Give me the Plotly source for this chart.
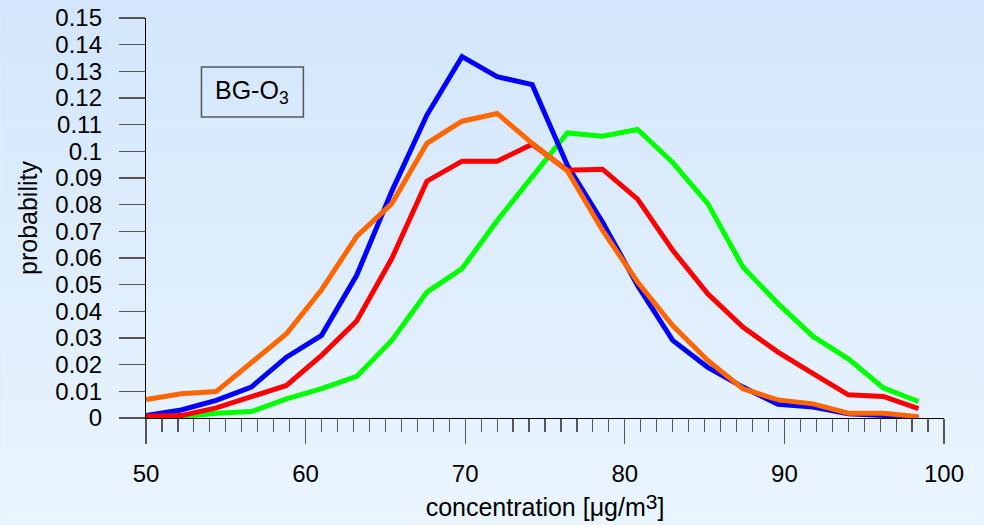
import plotly.graph_objects as go

# ---- data ----
conc = [50.0, 52.2, 54.4, 56.6, 58.8, 61.0, 63.2, 65.4, 67.6, 69.8, 72.0, 74.2,
        76.4, 78.6, 80.8, 83.0, 85.2, 87.4, 89.6, 91.8, 94.0, 96.2, 98.4]
blue = [0.0009, 0.0030, 0.0066, 0.0116, 0.0228, 0.0310, 0.0535, 0.0850, 0.1136, 0.1355, 0.1280, 0.1250,
        0.0948, 0.0735, 0.0497, 0.0291, 0.0190, 0.0116, 0.0051, 0.0041, 0.0016, 0.0009, 0.0003]
red = [0.0007, 0.0009, 0.0038, 0.0078, 0.0122, 0.0235, 0.0364, 0.0598, 0.0888, 0.0963, 0.0963, 0.1027,
       0.0929, 0.0933, 0.0821, 0.0629, 0.0466, 0.0341, 0.0247, 0.0166, 0.0087, 0.0081, 0.0035]
green = [0.0003, 0.0004, 0.0018, 0.0024, 0.0072, 0.0110, 0.0156, 0.0291, 0.0472, 0.0560, 0.0740, 0.0904,
         0.1069, 0.1057, 0.1082, 0.0958, 0.0804, 0.0566, 0.0429, 0.0306, 0.0222, 0.0113, 0.0062]
orange = [0.0069, 0.0091, 0.0099, 0.0207, 0.0316, 0.0481, 0.0681, 0.0804, 0.1030, 0.1113, 0.1142, 0.1030,
          0.0927, 0.0704, 0.0510, 0.0347, 0.0216, 0.0110, 0.0068, 0.0053, 0.0018, 0.0018, 0.0005]

y_tickvals = [0, 0.01, 0.02, 0.03, 0.04, 0.05, 0.06, 0.07, 0.08, 0.09, 0.1, 0.11, 0.12, 0.13, 0.14, 0.15]
y_ticktext = ["0", "0.01", "0.02", "0.03", "0.04", "0.05", "0.06", "0.07", "0.08", "0.09",
              "0.1", "0.11", "0.12", "0.13", "0.14", "0.15"]
x_tickvals = [50, 60, 70, 80, 90, 100]
x_ticktext = ["50", "60", "70", "80", "90", "100"]

label_text = "BG-O<sub>3</sub>"
x_title = "concentration [μg/m<span style=\"font-size:21px;baseline-shift:7px\">3</span>]"
y_title = "probability"

FONT = "Liberation Sans, Arial, sans-serif"

# plot-area geometry in pixels
L, T, W, H = 145.5, 18.0, 798.5, 400.0

fig = go.Figure()
for ys, col in [(green, "#00ff00"), (blue, "#0000ff"), (red, "#ff0000"), (orange, "#ff6600")]:
    fig.add_trace(go.Scatter(x=conc, y=ys, mode="lines", line=dict(color=col, width=5),
                             cliponaxis=False, showlegend=False, hoverinfo="skip"))

# gradient background via bands
shapes = []
n = 60
top = (211, 230, 251)
bot = (234, 245, 254)
for k in range(n):
    t0 = k / n
    t1 = (k + 1) / n
    c = tuple(int(round(top[j] + (bot[j] - top[j]) * (t0 + t1) / 2)) for j in range(3))
    py0 = t0 * 525
    py1 = t1 * 525 + 1
    shapes.append(dict(type="rect", xref="paper", yref="paper", layer="below",
                       x0=(0 - L) / W, x1=(984 - L) / W,
                       y0=(T + H - py1) / H, y1=(T + H - py0) / H,
                       line=dict(width=0), fillcolor="rgb(%d,%d,%d)" % c))
# label box
shapes.append(dict(type="rect", xref="paper", yref="paper", layer="above",
                   x0=(201 - L) / W, x1=(303 - L) / W,
                   y0=(T + H - 117) / H, y1=(T + H - 67) / H,
                   line=dict(color="#555555", width=1.5), fillcolor="rgba(0,0,0,0)"))

fig.update_layout(
    width=984, height=525,
    margin=dict(l=L, r=984 - L - W, t=T, b=525 - T - H, autoexpand=False),
    paper_bgcolor="rgb(222,238,252)",
    plot_bgcolor="rgba(0,0,0,0)",
    font=dict(family=FONT, size=24, color="#000000"),
    shapes=shapes,
    annotations=[dict(text=label_text, xref="paper", yref="paper",
                      x=(252 - L) / W, y=(T + H - 92) / H,
                      xanchor="center", yanchor="middle", showarrow=False,
                      font=dict(family=FONT, size=25, color="#000000"))],
    xaxis=dict(range=[50, 100], showgrid=False, zeroline=False, automargin=False,
               showline=True, linecolor="#000000", linewidth=1.2,
               ticks="outside", ticklen=25, tickcolor="#555555", tickwidth=1.2,
               tickvals=x_tickvals, ticktext=x_ticktext, ticklabelstandoff=9,
               tickfont=dict(size=24),
               minor=dict(ticks="outside", ticklen=13, dtick=1, tickcolor="#555555",
                          tickwidth=1.2, showgrid=False),
               title=dict(text=x_title, font=dict(size=25), standoff=12)),
    yaxis=dict(range=[0, 0.15], showgrid=False, zeroline=False, automargin=False,
               showline=True, linecolor="#000000", linewidth=1.2,
               ticks="outside", ticklen=26, tickcolor="#555555", tickwidth=1.2,
               tickvals=y_tickvals, ticktext=y_ticktext, ticklabelstandoff=12,
               tickfont=dict(size=24),
               title=dict(text=y_title, font=dict(size=25), standoff=10)),
)

fig.write_html("out.html", config={"displayModeBar": False, "staticPlot": True},
               post_script="document.body.style.margin='0';document.body.style.overflow='hidden';")
